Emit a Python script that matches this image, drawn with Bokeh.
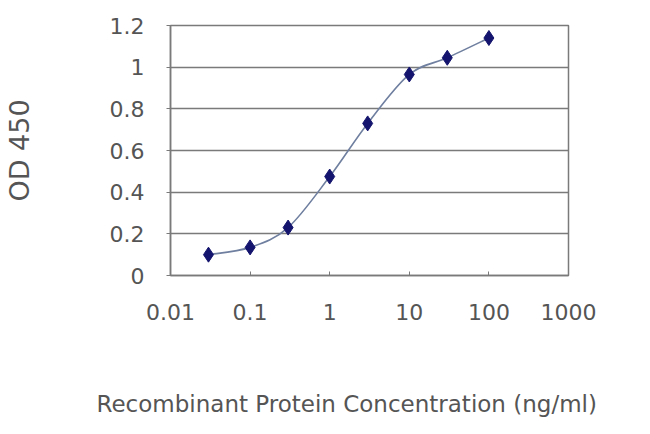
import numpy as np
from bokeh.plotting import figure
from bokeh.models import FixedTicker, Title, ColumnDataSource
from bokeh.embed import file_html
from bokeh.resources import INLINE

# Data
conc = [0.03, 0.1, 0.3, 1, 3, 10, 30, 100]
od450 = [0.10, 0.135, 0.23, 0.475, 0.73, 0.965, 1.045, 1.14]
x_ticks = [0.01, 0.1, 1, 10, 100, 1000]
x_tick_labels = ["0.01", "0.1", "1", "10", "100", "1000"]
y_ticks = [0, 0.2, 0.4, 0.6, 0.8, 1.0, 1.2]
y_tick_labels = ["0", "0.2", "0.4", "0.6", "0.8", "1", "1.2"]

FONT = "DejaVu Sans"
TXT = "#555555"
GRID = "#7a7a7a"

p = figure(width=634, height=418, x_axis_type="log",
           x_range=(0.01, 1000), y_range=(0, 1.2),
           output_backend="svg", toolbar_location=None,
           min_border_left=169, min_border_right=66,
           min_border_top=25, min_border_bottom=143)
p.background_fill_color = "white"
p.border_fill_color = "white"
p.outline_line_color = GRID
p.outline_line_width = 1.5

# grid
p.xgrid.grid_line_color = None
p.ygrid.grid_line_color = GRID
p.ygrid.grid_line_width = 1.5

# x axis
p.xaxis.ticker = FixedTicker(ticks=x_ticks, minor_ticks=[])
p.xaxis.major_label_overrides = {t: l for t, l in zip(x_ticks, x_tick_labels)}
p.xaxis.major_tick_in = 4
p.xaxis.major_tick_out = 0
p.xaxis.minor_tick_in = 0
p.xaxis.minor_tick_out = 0
p.xaxis.major_label_standoff = 28
p.xaxis.axis_line_color = GRID
p.xaxis.axis_line_width = 1.5
p.xaxis.major_tick_line_color = GRID
p.xaxis.major_label_text_font = FONT
p.xaxis.major_label_text_font_size = "22px"
p.xaxis.major_label_text_color = TXT
# blank axis label only reserves space so the title below sits low
p.xaxis.axis_label = "\u00a0"
p.xaxis.axis_label_text_font_size = "22px"
p.xaxis.axis_label_standoff = 38

# y axis
p.yaxis.ticker = FixedTicker(ticks=y_ticks, minor_ticks=[])
p.yaxis.major_label_overrides = {t: l for t, l in zip(y_ticks, y_tick_labels)}
p.yaxis.major_tick_in = 0
p.yaxis.major_tick_out = 4
p.yaxis.minor_tick_in = 0
p.yaxis.minor_tick_out = 0
p.yaxis.major_label_standoff = 22
p.yaxis.axis_line_color = GRID
p.yaxis.axis_line_width = 1.5
p.yaxis.major_tick_line_color = GRID
p.yaxis.major_label_text_font = FONT
p.yaxis.major_label_text_font_size = "22px"
p.yaxis.major_label_text_color = TXT
p.yaxis.axis_label = "OD 450"
p.yaxis.axis_label_text_font = FONT
p.yaxis.axis_label_text_font_size = "27px"
p.yaxis.axis_label_text_font_style = "normal"
p.yaxis.axis_label_text_color = TXT
p.yaxis.axis_label_standoff = 72

# smooth line (Catmull-Rom bezier in log-x space, from the data)
lx = np.log10(np.array(conc, dtype=float))
yy = np.array(od450, dtype=float)
n = len(lx)
x0s, y0s, x1s, y1s, cx0, cy0, cx1, cy1 = [], [], [], [], [], [], [], []
for i in range(n - 1):
    pm = i - 1 if i > 0 else i
    pp = i + 2 if i + 2 < n else i + 1
    c0x = lx[i] + (lx[i + 1] - lx[pm]) / 6
    c0y = yy[i] + (yy[i + 1] - yy[pm]) / 6
    c1x = lx[i + 1] - (lx[pp] - lx[i]) / 6
    c1y = yy[i + 1] - (yy[pp] - yy[i]) / 6
    x0s.append(10 ** lx[i]); y0s.append(yy[i])
    x1s.append(10 ** lx[i + 1]); y1s.append(yy[i + 1])
    cx0.append(10 ** c0x); cy0.append(c0y)
    cx1.append(10 ** c1x); cy1.append(c1y)
bez = ColumnDataSource(dict(x0=x0s, y0=y0s, x1=x1s, y1=y1s,
                            cx0=cx0, cy0=cy0, cx1=cx1, cy1=cy1))
p.bezier(x0="x0", y0="y0", x1="x1", y1="y1", cx0="cx0", cy0="cy0",
         cx1="cx1", cy1="cy1", source=bez, line_color="#6f7f9f", line_width=1.6)

p.scatter(conc, od450, marker="diamond", size=15, fill_color="#14146e",
          line_color="#14146e")

t = Title(text="Recombinant Protein Concentration (ng/ml)", align="left",
          offset=-74, standoff=0, text_font=FONT, text_font_size="23px",
          text_font_style="normal", text_color=TXT)
p.add_layout(t, "below")

open("out.html", "w").write(file_html(p, INLINE))
